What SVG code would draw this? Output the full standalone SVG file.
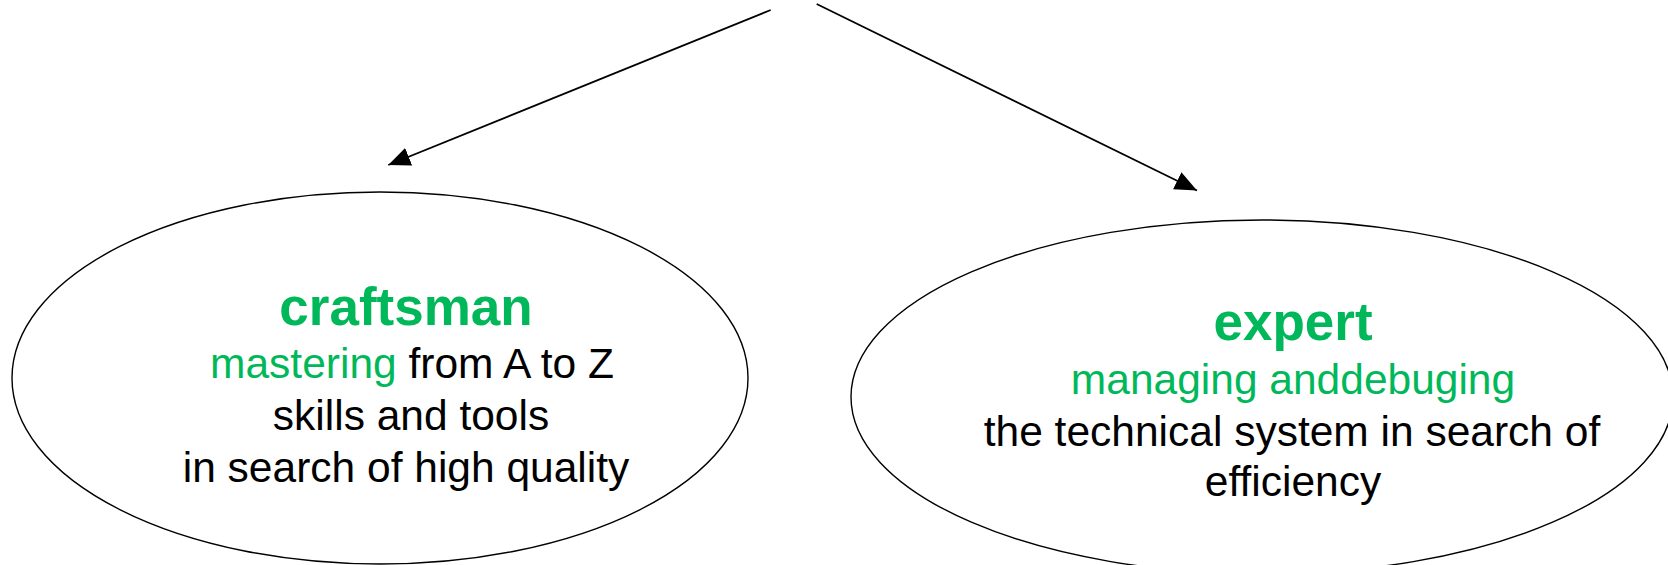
<svg xmlns="http://www.w3.org/2000/svg" width="1668" height="565" viewBox="0 0 1668 565">
<style>
  .node { fill: #ffffff; stroke: #000000; stroke-width: 1.4; }
  .conn { stroke: #000000; stroke-width: 1.8; fill: none; }
  text { font-family: "Liberation Sans", Arial, sans-serif; text-anchor: middle; }
  .title { font-size: 53px; font-weight: bold; fill: #00b85a; }
  .body { font-size: 42.5px; fill: #000000; }
  .green { fill: #00b85a; }
</style>
<defs>
  <marker id="arrow" markerUnits="userSpaceOnUse" markerWidth="24" markerHeight="20" refX="22" refY="9.5" orient="auto">
    <path d="M0,0 L22,9.5 L0,19 z" fill="#000000"/>
  </marker>
</defs>
<rect width="1668" height="565" fill="#ffffff"/>
<g id="craftsman">
  <ellipse class="node" cx="380" cy="378" rx="368" ry="186"/>
  <text class="title" x="406" y="325">craftsman</text>
  <text class="body" x="412" y="378"><tspan class="green">mastering</tspan> from A to Z</text>
  <text class="body" x="411" y="430">skills and tools</text>
  <text class="body" x="406" y="482">in search of high quality</text>
</g>
<g id="expert">
  <ellipse class="node" cx="1262" cy="397" rx="411" ry="177"/>
  <text class="title" x="1293" y="340">expert</text>
  <text class="body green" x="1293" y="394">managing anddebuging</text>
  <text class="body" x="1292" y="446">the technical system in search of</text>
  <text class="body" x="1293" y="496">efficiency</text>
</g>
<g id="connectors">
  <line class="conn" x1="770.7" y1="10" x2="388.3" y2="165" marker-end="url(#arrow)"/>
  <line class="conn" x1="816.7" y1="4" x2="1197" y2="190.5" marker-end="url(#arrow)"/>
</g>
</svg>
